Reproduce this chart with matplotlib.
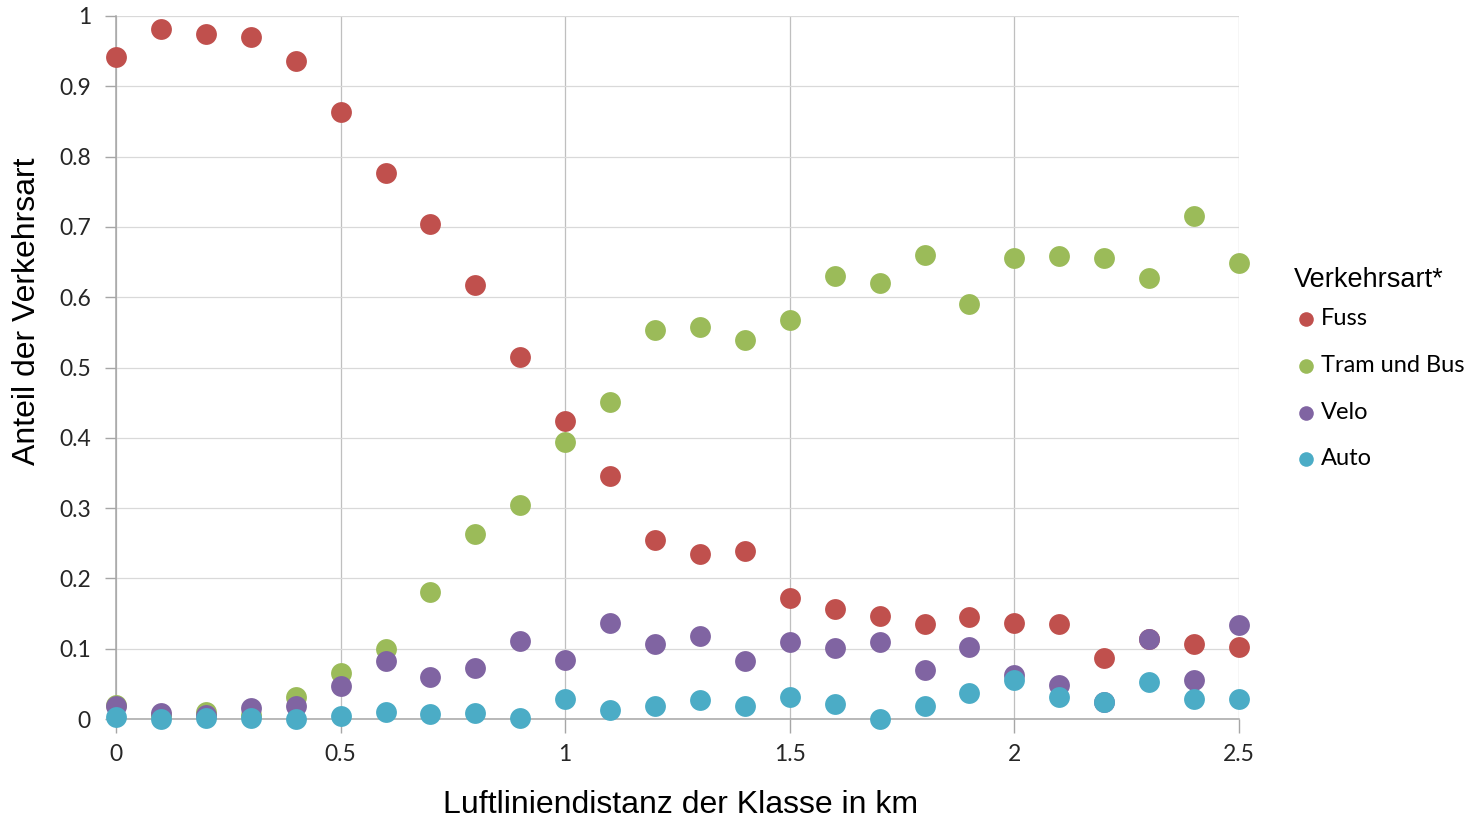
import numpy as np
import matplotlib.pyplot as plt

# Luftliniendistanz der Klassen (km)
distanz = [0.0, 0.1, 0.2, 0.3, 0.4, 0.5, 0.6, 0.7, 0.8, 0.9, 1.0, 1.1, 1.2,
           1.3, 1.4, 1.5, 1.6, 1.7, 1.8, 1.9, 2.0, 2.1, 2.2, 2.3, 2.4, 2.5]

fuss = [0.942, 0.982, 0.975, 0.970, 0.936, 0.864, 0.776, 0.704, 0.617, 0.515,
        0.424, 0.345, 0.255, 0.234, 0.239, 0.172, 0.157, 0.147, 0.135, 0.145,
        0.136, 0.135, 0.087, 0.114, 0.107, 0.103]
tram_bus = [0.020, 0.005, 0.010, 0.005, 0.032, 0.065, 0.100, 0.180, 0.263, 0.304,
            0.394, 0.451, 0.554, 0.558, 0.539, 0.568, 0.630, 0.620, 0.660, 0.591,
            0.656, 0.659, 0.656, 0.627, 0.715, 0.649]
velo = [0.018, 0.008, 0.006, 0.015, 0.018, 0.047, 0.083, 0.060, 0.073, 0.111,
        0.084, 0.136, 0.107, 0.118, 0.082, 0.110, 0.101, 0.110, 0.070, 0.103,
        0.063, 0.048, 0.024, 0.114, 0.056, 0.134]
auto = [0.003, 0.000, 0.001, 0.001, 0.000, 0.004, 0.010, 0.007, 0.009, 0.002,
        0.029, 0.013, 0.019, 0.027, 0.019, 0.031, 0.022, 0.000, 0.019, 0.037,
        0.056, 0.031, 0.024, 0.052, 0.028, 0.029]

serien = [("Fuss", fuss, "#C0504D"),
          ("Tram und Bus", tram_bus, "#9BBB59"),
          ("Velo", velo, "#8064A2"),
          ("Auto", auto, "#4BACC6")]

tick_font = "Lato"
title_font = "Liberation Sans"

fig = plt.figure(figsize=(14.72, 8.19), dpi=100)
ax = fig.add_axes([116 / 1472, 1 - 719 / 819, (1239 - 116) / 1472, (719 - 16) / 819])

for name, werte, farbe in serien:
    ax.scatter(distanz, werte, s=225, color=farbe, label=name,
               linewidths=0, zorder=3, clip_on=False)

ax.set_xlim(0, 2.5)
ax.set_ylim(0, 1)
ax.set_xticks(np.arange(0, 2.51, 0.5))
ax.set_yticks(np.arange(0, 1.01, 0.1))
ax.set_xticklabels(["0", "0.5", "1", "1.5", "2", "2.5"])
ax.set_yticklabels(["0", "0.1", "0.2", "0.3", "0.4", "0.5", "0.6", "0.7", "0.8", "0.9", "1"])

ax.xaxis.grid(True, color="#BFBFBF", linewidth=0.9)
ax.yaxis.grid(True, color="#D9D9D9", linewidth=0.9)
ax.set_axisbelow(True)

for s in ["top", "right"]:
    ax.spines[s].set_visible(False)
for s in ["left", "bottom"]:
    ax.spines[s].set_color("#A6A6A6")
    ax.spines[s].set_linewidth(1.1)

ax.tick_params(axis="y", length=8, color="#A6A6A6", width=1, pad=10,
               labelsize=16.5, labelcolor="#262626")
ax.tick_params(axis="x", length=10, color="#A6A6A6", width=1, pad=8,
               labelsize=16.5, labelcolor="#262626")
for lbl in ax.get_xticklabels() + ax.get_yticklabels():
    lbl.set_fontfamily(tick_font)

fig.text(27 / 1472, 1 - 311 / 819, "Anteil der Verkehrsart", rotation=90,
         ha="center", va="center", fontsize=23, family=title_font)
fig.text(681 / 1472, 1 - 805 / 819, "Luftliniendistanz der Klasse in km",
         ha="center", va="center", fontsize=23, family=title_font)

leg = ax.legend(loc="upper left", bbox_to_anchor=(1294 / 1472, 1 - 267 / 819),
                bbox_transform=fig.transFigure, frameon=False,
                title="Verkehrsart*", alignment="left",
                prop={"family": tick_font, "size": 17},
                markerscale=0.7, handletextpad=0.15, handlelength=1.0,
                labelspacing=1.09, borderaxespad=0, borderpad=0)
leg.get_title().set_fontsize(19.5)
leg.get_title().set_fontfamily(title_font)
leg._legend_box.sep = 11

fig.savefig("out.png", dpi=100)
